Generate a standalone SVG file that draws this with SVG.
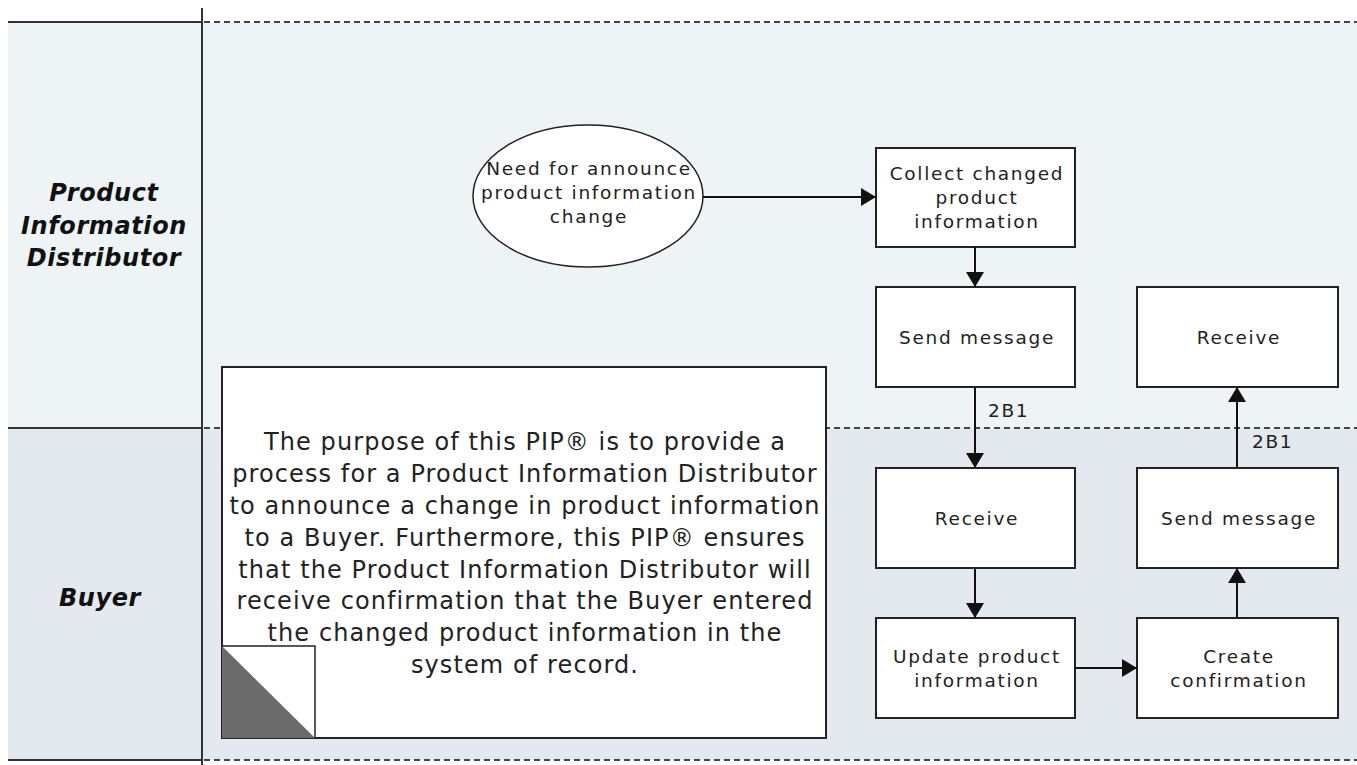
<svg xmlns="http://www.w3.org/2000/svg" width="1357" height="765" viewBox="0 0 1357 765">
<style>
.lane{font-family:"DejaVu Sans",Verdana,sans-serif;font-size:24px;font-weight:bold;font-style:italic;fill:#111;text-anchor:middle;letter-spacing:0.6px}
.box{fill:#fff;stroke:#222;stroke-width:2}
.t{font-family:"DejaVu Sans",Verdana,sans-serif;font-size:18.5px;fill:#222;text-anchor:middle;letter-spacing:1.7px}
.lbl{font-family:"DejaVu Sans",Verdana,sans-serif;font-size:18.5px;fill:#222;letter-spacing:1.7px}
.note{font-family:"DejaVu Sans",Verdana,sans-serif;font-size:24px;fill:#222;text-anchor:middle;letter-spacing:1.1px}
.sep{stroke:#333;stroke-width:2}
.dash{stroke:#444;stroke-width:2;stroke-dasharray:6,4}
.conn{stroke:#111;stroke-width:2;fill:none}
</style>
<defs>
<marker id="ah" markerUnits="userSpaceOnUse" markerWidth="16" markerHeight="18" refX="15" refY="9" orient="auto">
<path d="M0,0 L15,9 L0,18 z" fill="#111"/>
</marker>
</defs>
<rect x="0" y="0" width="1357" height="765" fill="#fff"/>
<g id="lanes">
<rect x="8" y="22" width="1349" height="406" fill="#eef3f6"/>
<rect x="8" y="428" width="1349" height="332" fill="#e4e8ef"/>
<line class="sep" x1="8" y1="22" x2="202" y2="22"/>
<line class="sep" x1="8" y1="428" x2="202" y2="428"/>
<line class="sep" x1="8" y1="760" x2="202" y2="760"/>
<line class="sep" x1="202" y1="8" x2="202" y2="765"/>
<line class="dash" x1="204" y1="22" x2="1357" y2="22"/>
<line class="dash" x1="204" y1="428" x2="1357" y2="428"/>
<line class="dash" x1="204" y1="760" x2="1357" y2="760"/>
<text class="lane" x="104" y="201">Product</text>
<text class="lane" x="104" y="234">Information</text>
<text class="lane" x="104" y="266">Distributor</text>
<text class="lane" x="100" y="606">Buyer</text>
</g>
<g id="note">
<rect x="222" y="367" width="604" height="371" fill="#fff" stroke="#222" stroke-width="2"/>
<rect x="222" y="646" width="93" height="92" fill="#fff" stroke="#222" stroke-width="1.5"/>
<path d="M222,646 L315,738 L222,738 z" fill="#6b6b6b"/>
<text class="note" x="525" y="450">The purpose of this PIP® is to provide a</text>
<text class="note" x="525" y="482">process for a Product Information Distributor</text>
<text class="note" x="525" y="514">to announce a change in product information</text>
<text class="note" x="525" y="546">to a Buyer. Furthermore, this PIP® ensures</text>
<text class="note" x="525" y="578">that the Product Information Distributor will</text>
<text class="note" x="525" y="609">receive confirmation that the Buyer entered</text>
<text class="note" x="525" y="641">the changed product information in the</text>
<text class="note" x="525" y="673">system of record.</text>
</g>
<g id="start">
<ellipse cx="588" cy="196" rx="115" ry="71" fill="#fff" stroke="#222" stroke-width="1.5"/>
<text class="t" x="589" y="175">Need for announce</text>
<text class="t" x="589" y="199">product information</text>
<text class="t" x="589" y="223">change</text>
</g>
<g id="collect">
<rect class="box" x="876" y="148" width="199" height="99"/>
<text class="t" x="977" y="180">Collect changed</text>
<text class="t" x="977" y="204">product</text>
<text class="t" x="977" y="228">information</text>
</g>
<g id="send1">
<rect class="box" x="876" y="287" width="199" height="100"/>
<text class="t" x="977" y="344">Send message</text>
</g>
<g id="receive2">
<rect class="box" x="1137" y="287" width="201" height="100"/>
<text class="t" x="1239" y="344">Receive</text>
</g>
<g id="receive1">
<rect class="box" x="876" y="468" width="199" height="100"/>
<text class="t" x="977" y="525">Receive</text>
</g>
<g id="send2">
<rect class="box" x="1137" y="468" width="201" height="100"/>
<text class="t" x="1239" y="525">Send message</text>
</g>
<g id="update">
<rect class="box" x="876" y="618" width="199" height="100"/>
<text class="t" x="977" y="663">Update product</text>
<text class="t" x="977" y="687">information</text>
</g>
<g id="create">
<rect class="box" x="1137" y="618" width="201" height="100"/>
<text class="t" x="1239" y="663">Create</text>
<text class="t" x="1239" y="687">confirmation</text>
</g>
<g id="connectors">
<line class="conn" x1="703" y1="197" x2="876" y2="197" marker-end="url(#ah)"/>
<line class="conn" x1="975" y1="247" x2="975" y2="287" marker-end="url(#ah)"/>
<line class="conn" x1="975" y1="387" x2="975" y2="468" marker-end="url(#ah)"/>
<line class="conn" x1="975" y1="568" x2="975" y2="618" marker-end="url(#ah)"/>
<line class="conn" x1="1075" y1="668" x2="1137" y2="668" marker-end="url(#ah)"/>
<line class="conn" x1="1237" y1="618" x2="1237" y2="568" marker-end="url(#ah)"/>
<line class="conn" x1="1237" y1="468" x2="1237" y2="387" marker-end="url(#ah)"/>
<text class="lbl" x="988" y="417">2B1</text>
<text class="lbl" x="1252" y="448">2B1</text>
</g>
</svg>
